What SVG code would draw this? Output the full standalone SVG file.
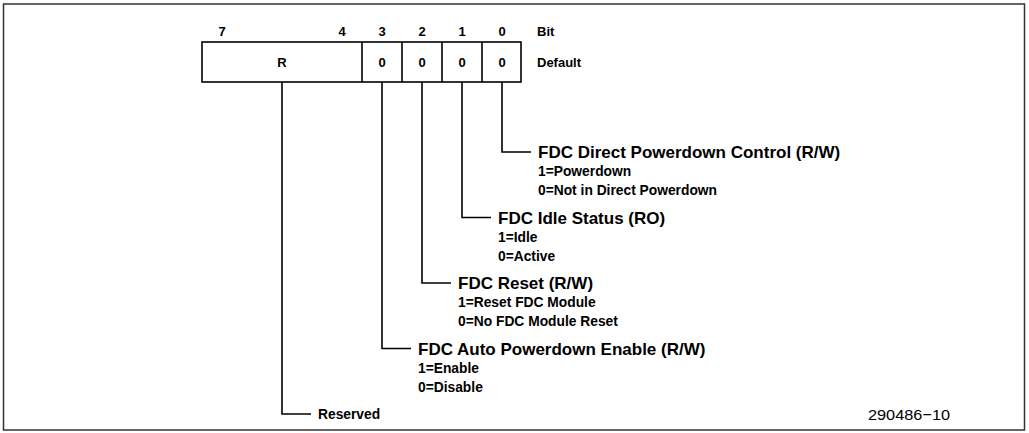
<svg xmlns="http://www.w3.org/2000/svg" width="1029" height="433" viewBox="0 0 1029 433">
<style>
text{font-family:"Liberation Sans",Arial,sans-serif;fill:#000}
.b{font-weight:bold;font-size:13px}
.t{font-weight:bold;font-size:17px}
.s{font-weight:bold;font-size:13.8px}
.c{text-anchor:middle}
.ln{fill:none;stroke:#000;stroke-width:1.6}
</style>
<rect x="3.5" y="4" width="1021" height="426" fill="#fff" stroke="#333" stroke-width="1.5"/>
<g id="register">
<rect class="ln" x="202" y="42" width="319" height="40"/>
<path class="ln" d="M362 42V82M402 42V82M442 42V82M482 42V82"/>
<text class="b c" x="222" y="36">7</text>
<text class="b c" x="342" y="36">4</text>
<text class="b c" x="382" y="36">3</text>
<text class="b c" x="422" y="36">2</text>
<text class="b c" x="462" y="36">1</text>
<text class="b c" x="502" y="36">0</text>
<text class="b" x="537" y="36">Bit</text>
<text class="b c" x="282" y="66.5">R</text>
<text class="b c" x="382" y="66.5">0</text>
<text class="b c" x="422" y="66.5">0</text>
<text class="b c" x="462" y="66.5">0</text>
<text class="b c" x="502" y="66.5">0</text>
<text class="b" x="537" y="66.5">Default</text>
</g>
<g id="connectors">
<path class="ln" d="M502 82V152H531"/>
<path class="ln" d="M462 82V217.5H491"/>
<path class="ln" d="M422 82V283H451"/>
<path class="ln" d="M382 82V348.5H411"/>
<path class="ln" d="M282 82V414H311"/>
</g>
<g id="bit0">
<text class="t" x="538" y="158">FDC Direct Powerdown Control (R/W)</text>
<text class="s" x="538" y="176">1=Powerdown</text>
<text class="s" x="538" y="195">0=Not in Direct Powerdown</text>
</g>
<g id="bit1">
<text class="t" x="498" y="223.5">FDC Idle Status (RO)</text>
<text class="s" x="498" y="241.5">1=Idle</text>
<text class="s" x="498" y="260.5">0=Active</text>
</g>
<g id="bit2">
<text class="t" x="458" y="289">FDC Reset (R/W)</text>
<text class="s" x="458" y="307">1=Reset FDC Module</text>
<text class="s" x="458" y="326">0=No FDC Module Reset</text>
</g>
<g id="bit3">
<text class="t" x="418" y="354.5">FDC Auto Powerdown Enable (R/W)</text>
<text class="s" x="418" y="372.5">1=Enable</text>
<text class="s" x="418" y="391.5">0=Disable</text>
</g>
<g id="reserved">
<text class="s" x="318" y="418.5">Reserved</text>
</g>
<text x="868" y="420" font-size="15.5" textLength="82" lengthAdjust="spacingAndGlyphs">290486−10</text>
</svg>
